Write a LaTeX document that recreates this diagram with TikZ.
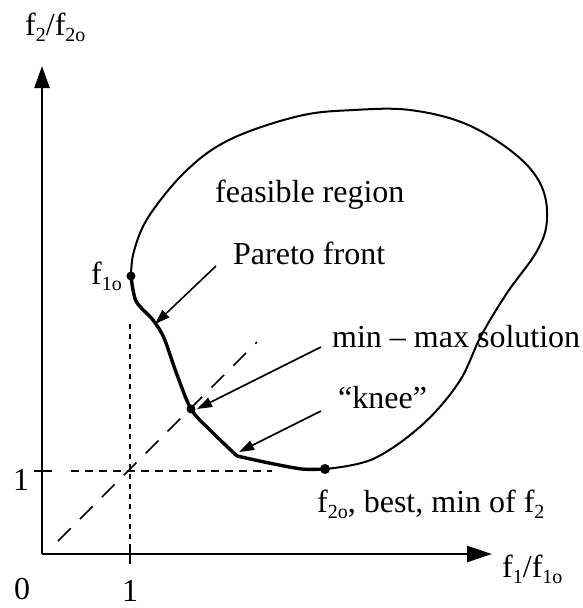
\documentclass[tikz,border=0pt]{standalone}
\usepackage{fontspec}
\setmainfont{Liberation Serif}
\usetikzlibrary{arrows.meta}
\newcommand\sbx[1]{\raisebox{-6pt}{\fontsize{20}{20}\selectfont #1}}
\begin{document}
\begin{tikzpicture}[x=1pt,y=-1pt,
  lbl/.style={font=\fontsize{32}{36}\selectfont, inner sep=0pt, anchor=base west},
  lblc/.style={font=\fontsize{32}{36}\selectfont, inner sep=0pt, anchor=base},
  axis/.style={line width=2.4pt},
  ptr/.style={line width=1.6pt,-{Triangle[length=15pt,width=10pt]}},
  dot/.style={circle, fill=black, inner sep=0pt, minimum size=9pt},
  boundary/.style={line width=2pt},
  front/.style={line width=3.4pt, line cap=round, line join=round}]
\useasboundingbox (0,0) rectangle (583,608);

% axes
\coordinate (O) at (42,554);
\coordinate (Ytip) at (42,66);
\coordinate (Xtip) at (492,554);
\draw[axis,-{Triangle[length=22pt,width=15pt]}] (O) -- (Ytip);
\draw[axis,-{Triangle[length=25pt,width=16pt]}] (O) -- (Xtip);
\coordinate (ytA) at (34,471); \coordinate (ytB) at (52,471);
\coordinate (xtA) at (130,546); \coordinate (xtB) at (130,564);
\draw[axis] (ytA) -- (ytB);
\draw[axis] (xtA) -- (xtB);

% axis labels
\node[lbl] (ylab) at (25,35) {f\sbx{2}/f\sbx{2o}};
\node[lbl] (xlab) at (502,577) {f\sbx{1}/f\sbx{1o}};
\node[lbl] (zero) at (14,599) {0};
\node[lblc] (onex) at (130,601) {1};
\node[lblc] (oney) at (21,490) {1};

% reference lines
\coordinate (hA) at (71,471); \coordinate (hB) at (272,471);
\coordinate (vA) at (130,324); \coordinate (vB) at (130,546);
\coordinate (dA) at (58,541); \coordinate (dB) at (257,342);
\draw[line width=1.5pt, dash pattern=on 8pt off 6pt] (hA) -- (hB);
\draw[line width=1.8pt, dash pattern=on 5pt off 5pt] (vA) -- (vB);
\draw[line width=1.6pt, dash pattern=on 18pt off 13pt] (dA) -- (dB);

% feasible region boundary
\coordinate (f1o) at (131,276);
\coordinate (f2o) at (325,469);
\coordinate (mm) at (191,409);
\coordinate (kn) at (237,456);
\draw[boundary] plot[smooth, tension=0.6] coordinates {
  (325,469) (373,459) (422,425) (459,382) (481,336) (507,293) (537,251)
  (547,220) (541,185) (515,154) (466,124) (410,110) (354,110) (299,116)
  (231,139) (187,170) (149,216) (134,251) (131,276)};
% Pareto front
\draw[front] plot[smooth, tension=0.5] coordinates {
  (131,276) (136,301) (153,320) (164,338) (176,372) (191,409) (210,430)
  (237,456)};
\draw[front] plot[smooth, tension=0.5] coordinates {
  (237,456) (269,463) (302,469) (325,469)};

\node[dot] (f1odot) at (f1o) {};
\node[dot, minimum size=10pt] (f2odot) at (f2o) {};
\node[dot] (mmdot) at (mm) {};

% texts
\node[lbl] (feas) at (215,202) {feasible region};
\node[lbl] (pareto) at (233,264) {Pareto front};
\node[lbl] (minmax) at (332,347) {min – max solution};
\node[lbl] (knee) at (338,408) {“knee”};
\node[lbl] (f2olab) at (317,512) {f\sbx{2o}, best, min of f\sbx{2}};
\node[lbl] (f1olab) at (91,284) {f\sbx{1o}};

% pointers
\coordinate (paS) at (216,266); \coordinate (paE) at (155,324);
\coordinate (mmS) at (321,347); \coordinate (mmE) at (197,409);
\coordinate (knS) at (321,411); \coordinate (knE) at (239,452);
\draw[ptr] (paS) -- (paE);
\draw[ptr] (mmS) -- (mmE);
\draw[ptr] (knS) -- (knE);
\end{tikzpicture}
\end{document}
